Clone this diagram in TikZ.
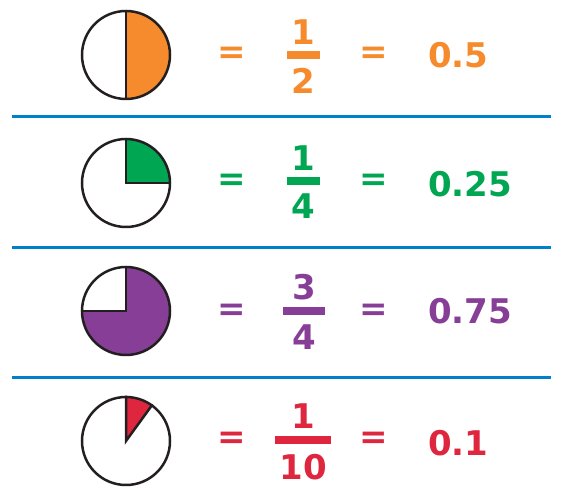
\documentclass[tikz,border=0pt]{standalone}
\usepackage{fontspec}
\setmainfont{DejaVu Sans}
\usetikzlibrary{positioning}
\definecolor{FracOrange}{RGB}{246,139,45}
\definecolor{FracGreen}{RGB}{0,166,81}
\definecolor{FracPurple}{RGB}{135,62,150}
\definecolor{FracRed}{RGB}{222,38,62}
\definecolor{RuleBlue}{RGB}{0,128,200}
\definecolor{PieLine}{RGB}{35,31,32}
\tikzset{
	pie/.style={circle,draw=PieLine,line width=2.5pt,minimum size=88pt,inner sep=0pt},
	pieline/.style={draw=PieLine,line width=2.5pt},
	num/.style={font=\fontsize{34}{34}\selectfont\bfseries,inner sep=0pt},
	bar/.style={rectangle,inner sep=0pt,minimum height=8pt},
	rule/.style={draw=RuleBlue,line width=3pt},
}
\begin{document}
\begin{tikzpicture}[x=1pt,y=1pt]
			\useasboundingbox (0,0) rectangle (563,498);
			% rules between rows
			\draw[rule] (12,381) -- (551,381);
			\draw[rule] (12,250) -- (551,250);
			\draw[rule] (12,120) -- (551,120);
			% one half
			\coordinate (c1) at (126,443);
			\fill[FracOrange] (c1) -- ++(90:44) arc[start angle=90,end angle=-90,radius=44] -- cycle;
			\node[pie] (p1) at (c1) {};
			\draw[pieline] (p1.north) -- (p1.south);
			\node[num,text=FracOrange] (eq1a) at (232,443) {=};
			\node[num,text=FracOrange] (n1) at (303,465.5) {1};
			\node[bar,fill=FracOrange,minimum width=33pt] (bar1) at (303,443) {};
			\node[num,text=FracOrange] (d1) at (303,417) {2};
			\node[num,text=FracOrange] (eq1b) at (374,443) {=};
			\node[num,text=FracOrange,anchor=west] (v1) at (428,443) {0.5};
			% one quarter
			\coordinate (c2) at (126,315);
			\fill[FracGreen] (c2) -- ++(90:44) arc[start angle=90,end angle=0,radius=44] -- cycle;
			\node[pie] (p2) at (c2) {};
			\draw[pieline] (p2.north) -- (p2.center) -- (p2.east);
			\node[num,text=FracGreen] (eq2a) at (232,316) {=};
			\node[num,text=FracGreen] (n2) at (303,339.5) {1};
			\node[bar,fill=FracGreen,minimum width=33pt] (bar2) at (303,316.5) {};
			\node[num,text=FracGreen] (d2) at (303,292) {4};
			\node[num,text=FracGreen] (eq2b) at (374,316) {=};
			\node[num,text=FracGreen,anchor=west] (v2) at (428,314) {0.25};
			% three quarters
			\coordinate (c3) at (126,187);
			\fill[FracPurple] (c3) -- ++(90:44) arc[start angle=90,end angle=-180,radius=44] -- cycle;
			\node[pie] (p3) at (c3) {};
			\draw[pieline] (p3.north) -- (p3.center) -- (p3.west);
			\node[num,text=FracPurple] (eq3a) at (232,186) {=};
			\node[num,text=FracPurple] (n3) at (304,210.5) {3};
			\node[bar,fill=FracPurple,minimum width=42pt] (bar3) at (304,186.5) {};
			\node[num,text=FracPurple] (d3) at (304,161) {4};
			\node[num,text=FracPurple] (eq3b) at (374,186) {=};
			\node[num,text=FracPurple,anchor=west] (v3) at (428,187) {0.75};
			% one tenth
			\coordinate (c4) at (126,57);
			\fill[FracRed] (c4) -- ++(90:44) arc[start angle=90,end angle=54,radius=44] -- cycle;
			\node[pie] (p4) at (c4) {};
			\draw[pieline] (p4.north) -- (p4.center) -- (p4.54);
			\node[num,text=FracRed] (eq4a) at (232,58) {=};
			\node[num,text=FracRed] (n4) at (303,81.5) {1};
			\node[bar,fill=FracRed,minimum width=56pt] (bar4) at (303,57.5) {};
			\node[num,text=FracRed] (d4) at (303,31) {10};
			\node[num,text=FracRed] (eq4b) at (374,58) {=};
			\node[num,text=FracRed,anchor=west] (v4) at (428,55) {0.1};
		\end{tikzpicture}
\end{document}
